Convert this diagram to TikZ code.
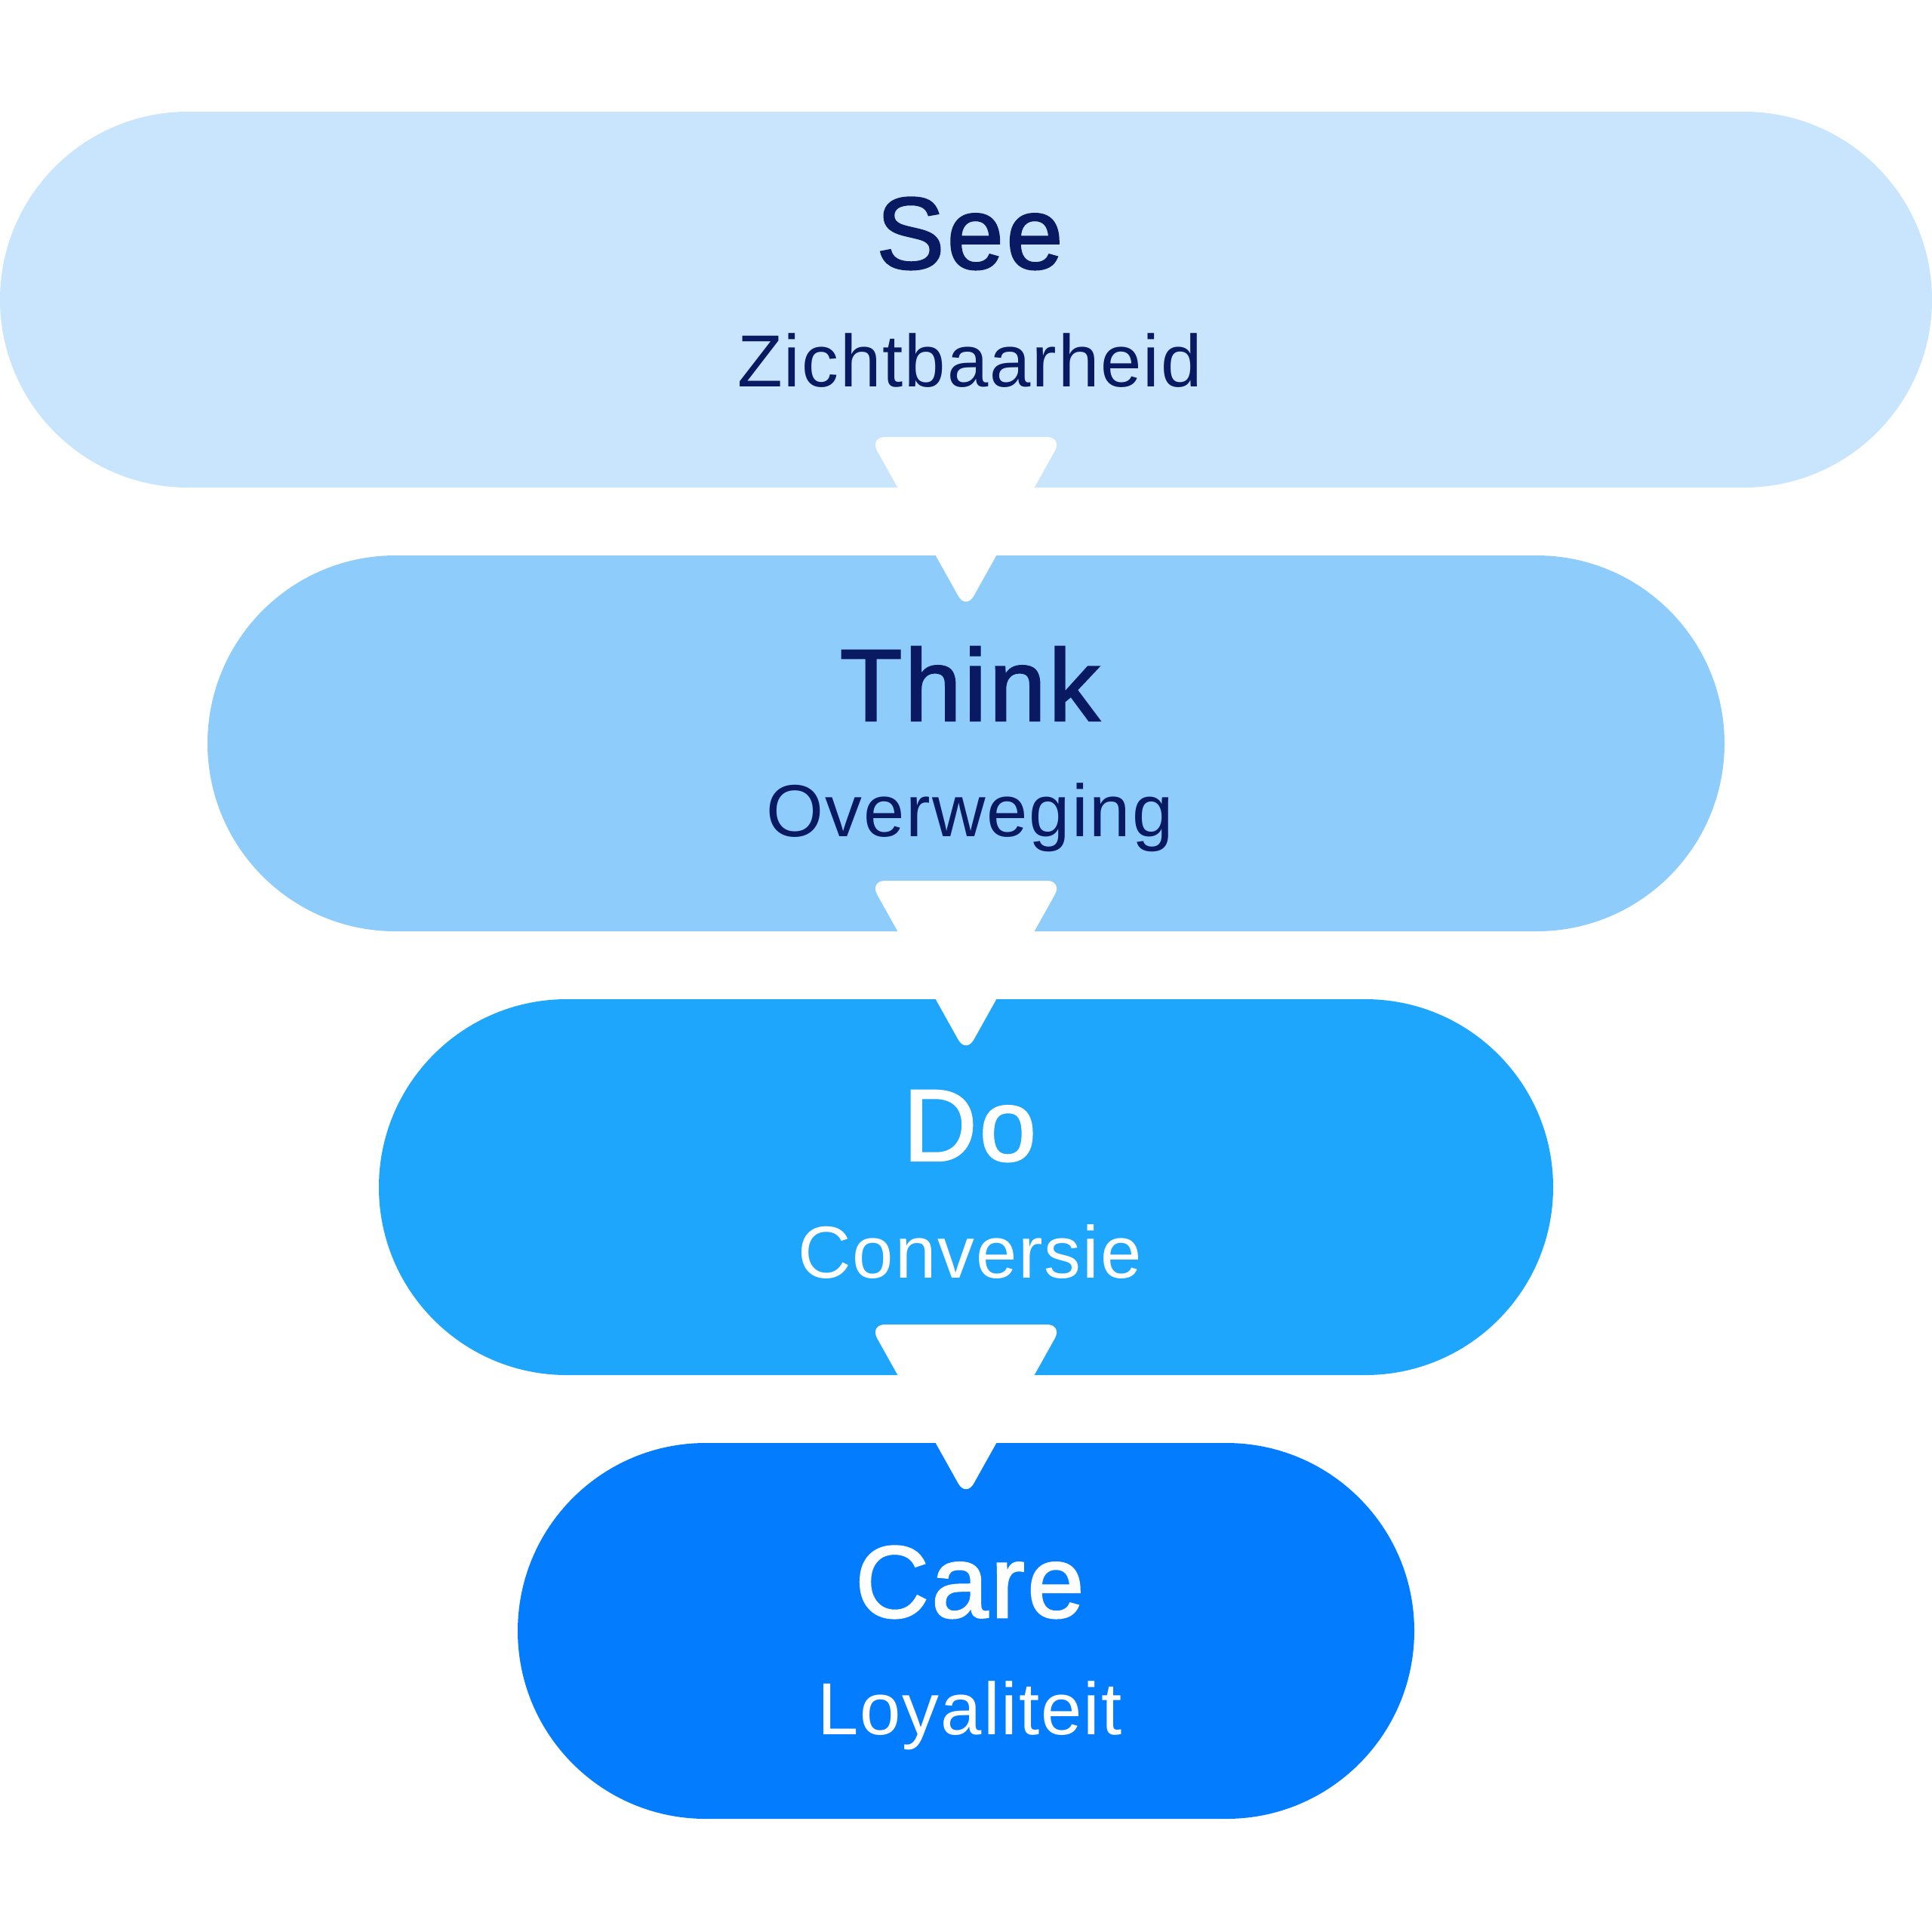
\documentclass[tikz,border=0pt]{standalone}
\usepackage{fontspec}
\setmainfont{Liberation Sans}
\newfontfamily\headfont{Liberation Sans}[FakeBold=1.8, LetterSpace=2.5]
\newfontfamily\subfont{Liberation Sans}[LetterSpace=2]
\usepackage{xcolor}
\usetikzlibrary{calc}

\definecolor{seecolor}{RGB}{200,229,253}
\definecolor{thinkcolor}{RGB}{141,204,251}
\definecolor{docolor}{RGB}{30,165,252}
\definecolor{carecolor}{RGB}{4,124,254}
\definecolor{navytext}{RGB}{10,26,98}

\begin{document}
\begin{tikzpicture}[
    pill/.style={rectangle, rounded corners=2.49cm, minimum height=4.98cm, inner sep=0pt, outer sep=0pt},
    headtext/.style={anchor=base, inner sep=0pt, font=\headfont\fontsize{38.5}{41}\selectfont},
    subtext/.style={anchor=base, inner sep=0pt, font=\subfont\fontsize{27.8}{30}\selectfont}]

\useasboundingbox (0,0) rectangle (25.6,-25.6);

\def\stages{see/seecolor/25.6/-3.97, think/thinkcolor/20.1/-9.85, do/docolor/15.56/-15.73, care/carecolor/11.88/-21.61}

% funnel pills
\foreach \name/\col/\w/\y in \stages {
    \node[pill, fill=\col, minimum width=\w cm] (\name) at (12.8,\y) {};
}

% white arrows between the pills
\foreach \from/\to in {see/think, think/do, do/care} {
    \coordinate (\from-top) at ($(\from.south)+(0,0.67)$);
    \coordinate (\to-tip) at ($(\to.north)+(0,-0.72)$);
    \fill[white, rounded corners=6pt] ($(\from-top)+(-1.28,0)$) -- ($(\from-top)+(1.28,0)$) -- (\to-tip) -- cycle;
}

\def\labels{see/See/Zichtbaarheid/navytext/-3.56/-5.12, think/Think/Overweging/navytext/-9.55/-11.08, do/Do/Conversie/white/-15.38/-16.93, care/Care/Loyaliteit/white/-21.43/-22.98}

% texts
\foreach \name/\head/\sub/\tc/\ya/\yb in \labels {
    \node[headtext, text=\tc] (\name-head) at (12.85,\ya) {\head};
    \node[subtext, text=\tc] (\name-sub) at (12.85,\yb) {\sub};
}

\end{tikzpicture}
\end{document}
